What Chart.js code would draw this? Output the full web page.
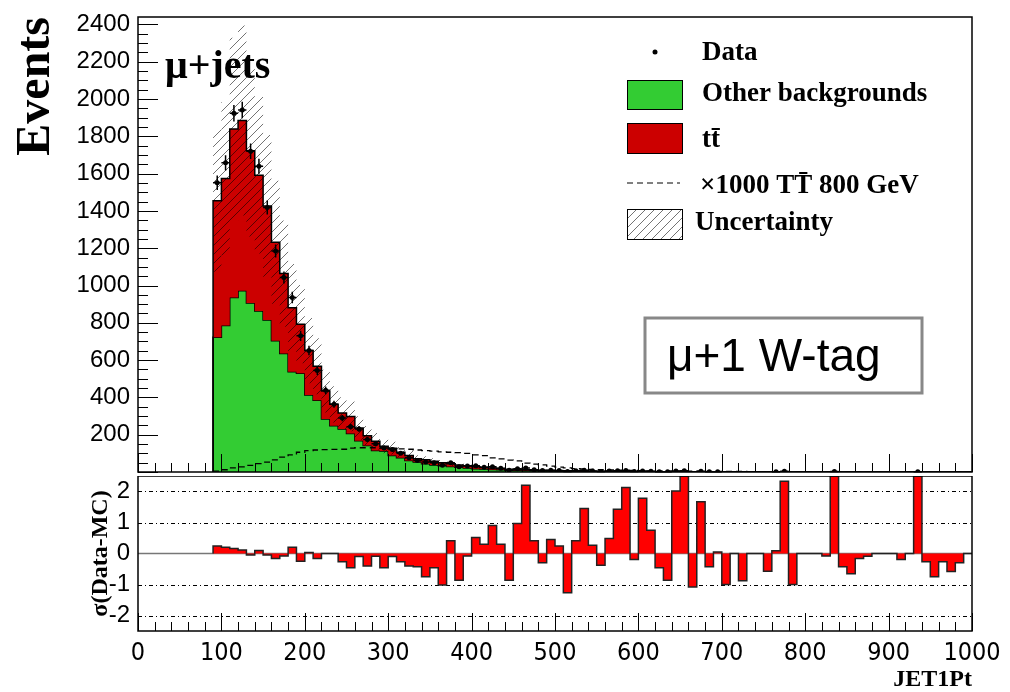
<!DOCTYPE html>
<html>
<head>
<meta charset="utf-8">
<script src="https://cdn.jsdelivr.net/npm/chart.js@4.4.0/dist/chart.umd.min.js"></script>
<style>
  html, body { margin: 0; padding: 0; background: #fff; }
  #wrap { position: relative; width: 1010px; height: 692px; overflow: hidden; }
  #top { position: absolute; left: 0; top: 0; }
  #bottom { position: absolute; left: 0; top: 476px; }
</style>
</head>
<body>
<div id="wrap">
  <canvas id="top" width="1010" height="476"></canvas>
  <canvas id="bottom" width="1010" height="216"></canvas>
</div>
<script>
"use strict";

// binning: 10 GeV bins, first bin starts at 90
const binStart = 90;
const binWidth = 10;

// stacked backgrounds (events per bin)
const otherBkg = [723, 786, 936, 972, 906, 863, 815, 704, 635, 537,
  530, 413, 385, 284, 248, 231, 207, 168, 142, 115,
  112, 89, 76, 62, 53, 44, 38, 33, 29, 25,
  21, 18, 16, 14, 12, 10, 9, 8, 7, 6,
  5.5, 5, 4.5, 4, 3.6, 3.2, 2.9, 2.6, 2.3, 2.1,
  1.9, 1.7, 1.5, 1.4, 1.3, 1.2, 1.1, 1.0, 0.9, 0.85,
  0.8, 0.75, 0.7, 0.65, 0.6, 0.55, 0.5, 0.5, 0.45, 0.45,
  0.4, 0.4, 0.35, 0.35, 0.3, 0.3, 0.3, 0.25, 0.25, 0.25,
  0.2, 0.2, 0.2, 0.2, 0.15, 0.15, 0.15, 0.15, 0.1, 0.1,
  0.1];

const ttbar = [731, 788, 903, 913, 817, 729, 612, 528, 429, 344,
  263, 238, 182, 150, 115, 85, 91, 68, 53, 50,
  26, 39, 30, 27, 18, 22, 20, 17, 15, 13,
  12, 10, 8, 7, 6, 5, 4, 3.5, 3, 3,
  2.5, 2, 2, 1.5, 1.4, 1.3, 1.1, 1, 0.9, 0.8,
  0.7, 0.7, 0.6, 0.5, 0.5, 0.4, 0.4, 0.35, 0.3, 0.3,
  0.25, 0.25, 0.2, 0.2, 0.2, 0.18, 0.18, 0.16, 0.16, 0.15,
  0.14, 0.14, 0.13, 0.12, 0.12, 0.11, 0.1, 0.1, 0.1, 0.09,
  0.09, 0.08, 0.08, 0.08, 0.07, 0.07, 0.07, 0.06, 0.06, 0.06,
  0.05];

// MC uncertainty (absolute, +-)
const mcUnc = [380, 410, 490, 510, 460, 420, 380, 330, 285, 235,
  210, 175, 150, 115, 97, 85, 80, 63, 52, 44,
  37, 34, 28, 24, 19, 18, 16, 14, 12, 10,
  9, 8, 7, 6, 5, 4, 3.5, 3, 2.7, 2.4,
  2.1, 1.9, 1.7, 1.5, 1.4, 1.2, 1.1, 1, 0.9, 0.8,
  0.7, 0.6, 0.6, 0.5, 0.5, 0.5, 0.4, 0.4, 0.4, 0.35,
  0.35, 0.3, 0.3, 0.3, 0.25, 0.25, 0.25, 0.2, 0.2, 0.2,
  0.2, 0.2, 0.15, 0.15, 0.15, 0.15, 0.15, 0.1, 0.1, 0.1,
  0.1, 0.1, 0.1, 0.1, 0.1, 0.08, 0.08, 0.08, 0.08, 0.08,
  0.08];

// data (null = empty bin)
const dataEvents = [1551, 1658, 1924, 1941, 1720, 1640, 1418, 1185, 1043, 936,
  730, 651, 544, 438, 363, 289, 243, 231, 174, 151,
  129, 121, 101, 76, 62, 53, 50, 36, 49, 28,
  32, 33, 26, 28, 20, 10, 18, 21, 12, 8,
  10, 8, 3, 7, 9, 5, 3, 5, 7, 8,
  3, 6, 4, 2, 1, 6, 7, null, 4, 1,
  2, null, null, null, null, null, null, 1, 4, null,
  null, null, null, null, 3, null, null, null, null, null,
  null, null, null, null, 2, null, null, null, null, null,
  null];

// x1000 TT 800 GeV signal
const signalX1000 = [5, 12, 22, 28, 36, 45, 53, 65, 80, 92,
  106, 115, 118, 120, 121, 122, 128, 130, 130, 130,
  129, 126, 124, 122, 118, 115, 112, 108, 106, 104,
  100, 92, 88, 76, 70, 64, 60, 48, 42, 38,
  32, 26, 22, 18, 16, 14, 12, 11, 10, 9,
  8, 7, 6.5, 6, 5.5, 5, 4.5, 4, 4, 3.5,
  3.5, 3, 3, 3, 2.5, 2.5, 2.5, 2, 2, 2,
  2, 1.8, 1.6, 1.5, 1.4, 1.3, 1.2, 1.1, 1, 1,
  0.9, 0.8, 0.8, 0.7, 0.7, 0.6, 0.6, 0.5, 0.5, 0.5,
  0.4];

// sigma(Data-MC) for the lower pad
const sigmaDataMC = [0.24, 0.2, 0.16, 0.11, -0.05, 0.1, -0.05, -0.16, -0.08, 0.2,
  -0.25, 0.03, -0.16, 0, 0, -0.27, -0.46, -0.1, -0.4, -0.09,
  -0.46, -0.1, -0.27, -0.4, -0.43, -0.75, -0.46, -1.02, 0.41, -0.86,
  -0.08, 0.52, 0.3, 0.9, 0.3, -0.86, 0.97, 2.2, 0.41, -0.3,
  0.45, 0.24, -1.27, 0.41, 1.45, 0.27, -0.38, 0.48, 1.43, 2.13,
  -0.19, 1.78, 0.75, -0.46, -0.86, 2.02, 2.5, -1.08, 1.67, -0.43,
  0.05, -1.0, 0, -0.88, 0, 0, -0.57, 0.09, 2.33, -1.0,
  0, 0, 0, -0.08, 2.5, -0.43, -0.65, -0.16, -0.09, 0,
  0, 0, -0.19, 0, 2.5, -0.27, -0.75, -0.27, -0.58, -0.3,
  0];

// axis ticks
const xTicks = [0, 100, 200, 300, 400, 500, 600, 700, 800, 900, 1000];
const yTicksTop = [200, 400, 600, 800, 1000, 1200, 1400, 1600, 1800, 2000, 2200, 2400];
const yTicksBottom = [-2, -1, 0, 1, 2];
const sigmaGrid = [-2, -1, 1, 2];

// colours
const green = "rgb(51,204,51)";
const red = "rgb(204,0,0)";
const ratioRed = "rgb(255,0,0)";

const sansFont = "'Liberation Sans', Arial, sans-serif";
const serifFont = "'Liberation Serif', 'Times New Roman', serif";

// bin edges and stack sums
const binLow = otherBkg.map((v, i) => binStart + i * binWidth);
const xEnd = binLow[binLow.length - 1] + binWidth;
const stackTotal = otherBkg.map((v, i) => v + ttbar[i]);
const uncUp = stackTotal.map((v, i) => v + mcUnc[i]);
const uncDown = stackTotal.map((v, i) => Math.max(v - mcUnc[i], 0));

// points for a step histogram (value at low edge, held to next edge)
function steps(values, closed) {
  const pts = [];
  if (closed) pts.push({ x: binLow[0], y: 0 });
  values.forEach((v, i) => pts.push({ x: binLow[i], y: v }));
  pts.push({ x: xEnd, y: values[values.length - 1] });
  if (closed) pts.push({ x: xEnd, y: 0 });
  return pts;
}

const dataPoints = [];
dataEvents.forEach((v, i) => {
  if (v !== null) dataPoints.push({ x: binLow[i] + binWidth / 2, y: v });
});

// plain tick numbers, no thousands separator
const plain = v => String(v);

// hatch pattern for the uncertainty band
const topCtx = document.getElementById("top").getContext("2d");
function makeHatch(ctx) {
  const c = document.createElement("canvas");
  c.width = 9;
  c.height = 9;
  const g = c.getContext("2d");
  g.strokeStyle = "rgba(0,0,0,0.55)";
  g.lineWidth = 1;
  g.beginPath();
  g.moveTo(0, 9); g.lineTo(9, 0);
  g.moveTo(-1, 1); g.lineTo(1, -1);
  g.moveTo(8, 10); g.lineTo(10, 8);
  g.stroke();
  return ctx.createPattern(c, "repeat");
}
const hatch = makeHatch(topCtx);

// frame and ROOT-like inner ticks
const frameTicks = {
  id: "frameTicks",
  afterDraw(chart, args, opts) {
    const { ctx, chartArea: a, scales } = chart;
    ctx.save();
    ctx.strokeStyle = "#000";
    ctx.lineWidth = 1;
    ctx.beginPath();
    for (let v = 0; v <= 1000; v += 20) {
      const px = Math.round(scales.x.getPixelForValue(v)) + 0.5;
      const len = v % 100 === 0 ? 18 : 9;
      ctx.moveTo(px, a.bottom);
      ctx.lineTo(px, a.bottom - len);
    }
    if (opts.yStep) {
      for (let v = 0; v <= scales.y.max; v += opts.yStep) {
        const py = Math.round(scales.y.getPixelForValue(v)) + 0.5;
        const len = v % opts.yMajor === 0 ? 20 : 10;
        ctx.moveTo(a.left, py);
        ctx.lineTo(a.left + len, py);
      }
    }
    ctx.stroke();
    ctx.lineWidth = 1.5;
    ctx.strokeRect(a.left, a.top, a.right - a.left, a.bottom - a.top);
    ctx.restore();
  }
};

// data error bars
const errorBars = {
  id: "errorBars",
  afterDatasetsDraw(chart) {
    const { ctx, scales } = chart;
    ctx.save();
    ctx.strokeStyle = "#000";
    ctx.lineWidth = 1.5;
    ctx.beginPath();
    dataEvents.forEach((v, i) => {
      if (v === null) return;
      const e = Math.sqrt(v);
      const xl = scales.x.getPixelForValue(binLow[i]);
      const xr = scales.x.getPixelForValue(binLow[i] + binWidth);
      const xc = scales.x.getPixelForValue(binLow[i] + binWidth / 2);
      const y = scales.y.getPixelForValue(v);
      ctx.moveTo(xl, y);
      ctx.lineTo(xr, y);
      ctx.moveTo(xc, scales.y.getPixelForValue(v + e));
      ctx.lineTo(xc, scales.y.getPixelForValue(Math.max(v - e, 0)));
    });
    ctx.stroke();
    ctx.restore();
  }
};

// legend, channel labels
const labels = {
  id: "labels",
  afterDraw(chart) {
    const ctx = chart.ctx;
    ctx.save();
    ctx.fillStyle = "#000";
    ctx.textBaseline = "alphabetic";
    ctx.font = "bold 40px " + serifFont;
    ctx.fillText("\u03bc+jets", 165, 78);

    // legend
    ctx.font = "bold 27px " + serifFont;
    ctx.textBaseline = "middle";
    ctx.beginPath();
    ctx.arc(655, 52, 2.5, 0, Math.PI * 2);
    ctx.fill();
    ctx.fillText("Data", 702, 53);

    ctx.fillStyle = green;
    ctx.fillRect(627, 80, 55, 29);
    ctx.strokeStyle = "#000";
    ctx.lineWidth = 1;
    ctx.strokeRect(627.5, 80.5, 55, 29);
    ctx.fillStyle = "#000";
    ctx.fillText("Other backgrounds", 702, 94);

    ctx.fillStyle = red;
    ctx.fillRect(627, 123, 55, 30);
    ctx.strokeRect(627.5, 123.5, 55, 30);
    ctx.fillStyle = "#000";
    ctx.fillText("tt\u0304", 702, 140);

    ctx.setLineDash([6, 4]);
    ctx.beginPath();
    ctx.moveTo(627, 183);
    ctx.lineTo(680, 183);
    ctx.stroke();
    ctx.setLineDash([]);
    ctx.fillText("\u00d71000 TT\u0304 800 GeV", 700, 186);

    ctx.fillStyle = "#fff";
    ctx.fillRect(627, 209, 55, 30);
    ctx.fillStyle = hatch;
    ctx.fillRect(627, 209, 55, 30);
    ctx.strokeRect(627.5, 209.5, 55, 30);
    ctx.fillStyle = "#000";
    ctx.fillText("Uncertainty", 695, 223);

    // category box
    ctx.strokeStyle = "#888";
    ctx.lineWidth = 3;
    ctx.strokeRect(645, 318, 277, 75);
    ctx.font = "46px " + sansFont;
    ctx.fillText("\u03bc+1 W-tag", 667, 358);
    ctx.restore();
  }
};

// dotted reference lines in the lower pad
const sigmaLines = {
  id: "sigmaLines",
  beforeDatasetsDraw(chart) {
    const { ctx, chartArea: a, scales } = chart;
    ctx.save();
    ctx.strokeStyle = "#000";
    ctx.lineWidth = 1;
    ctx.setLineDash([4, 3, 1, 3]);
    ctx.beginPath();
    sigmaGrid.forEach(v => {
      const py = Math.round(scales.y.getPixelForValue(v)) + 0.5;
      ctx.moveTo(a.left, py);
      ctx.lineTo(a.right, py);
    });
    ctx.stroke();
    ctx.setLineDash([]);
    ctx.strokeStyle = "#777";
    ctx.lineWidth = 1.5;
    ctx.beginPath();
    const p0 = scales.y.getPixelForValue(0);
    ctx.moveTo(a.left, p0);
    ctx.lineTo(a.right, p0);
    ctx.stroke();
    ctx.restore();
  }
};

const topChart = new Chart(topCtx, {
  type: "line",
  data: {
    datasets: [
      {
        label: "Other backgrounds",
        data: steps(otherBkg, true),
        stepped: "before",
        fill: "origin",
        backgroundColor: green,
        borderColor: "#000",
        borderWidth: 1.5,
        pointRadius: 0,
        order: 6
      },
      {
        label: "tt",
        data: steps(stackTotal, true),
        stepped: "before",
        fill: "-1",
        backgroundColor: red,
        borderColor: "#000",
        borderWidth: 1.5,
        pointRadius: 0,
        order: 5
      },
      {
        label: "uncDown",
        data: steps(uncDown, false),
        stepped: "before",
        fill: false,
        borderColor: "rgba(0,0,0,0)",
        borderWidth: 0,
        pointRadius: 0,
        order: 4
      },
      {
        label: "Uncertainty",
        data: steps(uncUp, false),
        stepped: "before",
        fill: "-1",
        backgroundColor: hatch,
        borderColor: "rgba(0,0,0,0)",
        borderWidth: 0,
        pointRadius: 0,
        order: 3
      },
      {
        label: "x1000 TT 800 GeV",
        data: steps(signalX1000, false),
        stepped: "before",
        fill: false,
        borderColor: "#000",
        borderWidth: 1.3,
        borderDash: [6, 4],
        pointRadius: 0,
        order: 2
      },
      {
        label: "Data",
        data: dataPoints,
        showLine: false,
        pointRadius: 2.5,
        pointBackgroundColor: "#000",
        pointBorderWidth: 0,
        order: 1
      }
    ]
  },
  options: {
    responsive: false,
    animation: false,
    events: [],
    layout: { padding: { top: 17, right: 38, bottom: 1, left: 0 } },
    plugins: {
      legend: { display: false },
      tooltip: { enabled: false },
      frameTicks: { yStep: 50, yMajor: 200 }
    },
    scales: {
      x: { type: "linear", min: 0, max: 1000, display: false },
      y: {
        type: "linear",
        min: 0,
        max: 2440,
        afterBuildTicks: s => { s.ticks = yTicksTop.map(v => ({ value: v })); },
        afterFit: s => { s.width = 138; s.paddingTop = 0; s.paddingBottom = 0; },
        grid: { display: false, drawTicks: false },
        border: { display: false },
        ticks: { padding: 8, color: "#000", callback: plain, font: { family: sansFont, size: 24 } },
        title: {
          display: true,
          text: "Events",
          align: "end",
          color: "#000",
          font: { family: serifFont, size: 48, weight: "bold" },
          padding: { top: 8, bottom: 0 }
        }
      }
    }
  },
  plugins: [frameTicks, errorBars, labels]
});

const bottomChart = new Chart(document.getElementById("bottom"), {
  type: "line",
  data: {
    datasets: [{
      label: "sigma(Data-MC)",
      data: steps(sigmaDataMC, true),
      stepped: "before",
      fill: "origin",
      backgroundColor: ratioRed,
      borderColor: "#222",
      borderWidth: 1.5,
      pointRadius: 0
    }]
  },
  options: {
    responsive: false,
    animation: false,
    events: [],
    layout: { padding: { top: 0, right: 38, bottom: 0, left: 0 } },
    plugins: {
      legend: { display: false },
      tooltip: { enabled: false },
      frameTicks: {}
    },
    scales: {
      x: {
        type: "linear",
        min: 0,
        max: 1000,
        afterBuildTicks: s => { s.ticks = xTicks.map(v => ({ value: v })); },
        afterFit: s => { s.height = 61; s.paddingLeft = 0; s.paddingRight = 0; },
        grid: { display: false, drawTicks: false },
        border: { display: false },
        ticks: {
          padding: 7,
          maxRotation: 0,
          autoSkip: false,
          color: "#000",
          callback: plain,
          font: { family: "'Liberation Sans Narrow', 'DejaVu Sans Condensed', " + sansFont, size: 25 }
        },
        title: {
          display: true,
          text: "JET1Pt",
          align: "end",
          color: "#000",
          font: { family: serifFont, size: 24, weight: "bold", lineHeight: 1 },
          padding: { top: 0, bottom: 0 }
        }
      },
      y: {
        type: "linear",
        min: -2.5,
        max: 2.5,
        afterBuildTicks: s => { s.ticks = yTicksBottom.map(v => ({ value: v })); },
        afterFit: s => { s.width = 138; s.paddingTop = 0; s.paddingBottom = 0; },
        grid: { display: false, drawTicks: false },
        border: { display: false },
        ticks: { padding: 8, color: "#000", callback: plain, font: { family: sansFont, size: 24 } },
        title: {
          display: true,
          text: "\u03c3(Data-MC)",
          color: "#000",
          font: { family: serifFont, size: 24, weight: "bold" },
          padding: { top: 86, bottom: 0 }
        }
      }
    }
  },
  plugins: [sigmaLines, frameTicks]
});
</script>
</body>
</html>
